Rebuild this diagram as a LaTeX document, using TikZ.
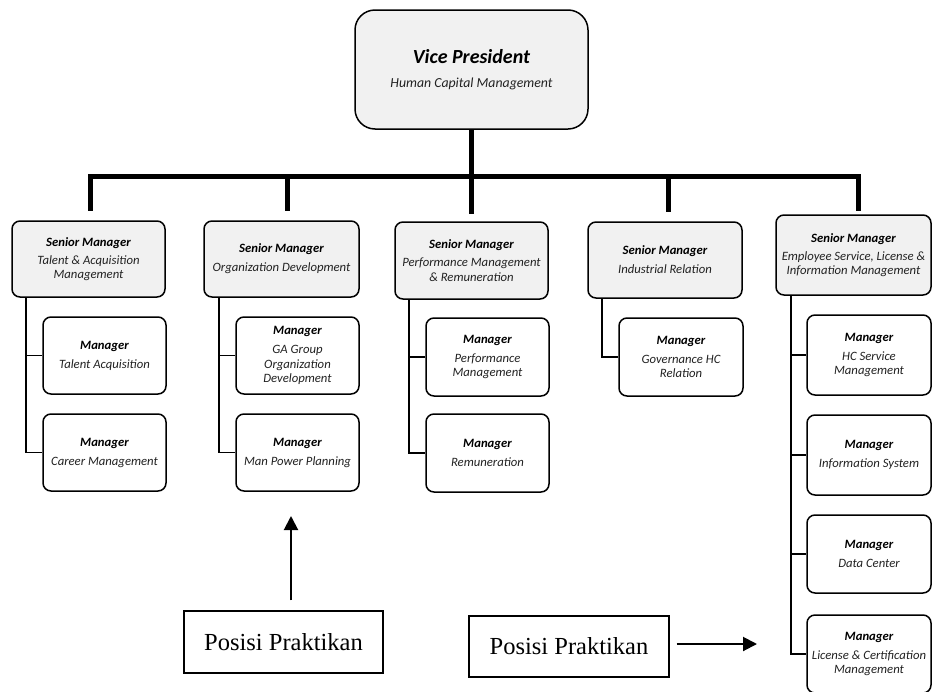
\documentclass[tikz,border=0pt]{standalone}
\usepackage{fontspec}
\setmainfont{Carlito}
\newfontfamily\serifpos{Liberation Serif}
\usetikzlibrary{arrows.meta}
\definecolor{boxgrey}{HTML}{F1F1F1}
\definecolor{subgrey}{HTML}{222222}
\newcommand\ttl[1]{{\color{black}\bfseries #1}}
\begin{document}
\begin{tikzpicture}[x=1pt,y=-1pt,
  box/.style={draw=black,line width=1.5pt,inner sep=0pt,align=center,text=subgrey,
    font=\fontsize{12.7}{14.5}\selectfont\itshape,rounded corners=8pt},
  sz/.style n args={2}{minimum width=#1pt,minimum height=#2pt},
  vpbox/.style={box,fill=boxgrey,rounded corners=20pt},
  smbox/.style={box,fill=boxgrey},
  mbox/.style={box,fill=white},
  bar/.style={line width=5pt},
  conn/.style={line width=1.6pt},
  posbox/.style={draw=black,line width=1.2pt,inner sep=0pt,
    font=\serifpos\fontsize{24.5}{28}\selectfont},
  posarrow/.style={line width=2pt,-{Triangle[length=14pt,width=14pt]}}
]
\useasboundingbox (0,0) rectangle (932,691);

% Vice President
\node[vpbox,sz={233}{119}] (vp) at (471.5,69.5)
  {{\color{black}\bfseries\fontsize{20}{23}\selectfont Vice President}\\[10pt]
   {\fontsize{13.8}{16}\selectfont Human Capital Management}};

% Senior managers
\node[smbox,sz={153}{76}] (sm1) at (88.5,259)
  {\ttl{Senior Manager}\\[3.5pt]Talent \& Acquisition\\Management};
\node[smbox,sz={155}{76}] (sm2) at (281.5,259)
  {\ttl{Senior Manager}\\[4.5pt]Organization Development};
\node[smbox,sz={153}{77}] (sm3) at (471.5,260.5)
  {\ttl{Senior Manager}\\[3.5pt]Performance Management\\\& Remuneration};
\node[smbox,sz={154}{76}] (sm4) at (665,260)
  {\ttl{Senior Manager}\\[4.5pt]Industrial Relation};
\node[smbox,sz={155}{80}] (sm5) at (853.5,255)
  {\ttl{Senior Manager}\\[3.5pt]Employee Service, License \&\\Information Management};

% Managers column 1
\node[mbox,sz={123}{77}] (m11) at (104.5,355.5) {\ttl{Manager}\\[4.5pt]Talent Acquisition};
\node[mbox,sz={123}{77}] (m12) at (104.5,452.5) {\ttl{Manager}\\[4.5pt]Career Management};
% column 2
\node[mbox,sz={123}{77}] (m21) at (297.5,355.5) {\ttl{Manager}\\[4.5pt]GA Group\\Organization\\Development};
\node[mbox,sz={123}{77}] (m22) at (297.5,452.5) {\ttl{Manager}\\[4.5pt]Man Power Planning};
% column 3
\node[mbox,sz={123}{78}] (m31) at (487.5,357) {\ttl{Manager}\\[4.5pt]Performance\\Management};
\node[mbox,sz={123}{78}] (m32) at (487.5,453) {\ttl{Manager}\\[4.5pt]Remuneration};
% column 4
\node[mbox,sz={124}{78}] (m41) at (681,357) {\ttl{Manager}\\[4.5pt]Governance HC\\Relation};
% column 5
\node[mbox,sz={124}{80}] (m51) at (869,355) {\ttl{Manager}\\[4.5pt]HC Service\\Management};
\node[mbox,sz={124}{80}] (m52) at (869,455) {\ttl{Manager}\\[4.5pt]Information System};
\node[mbox,sz={124}{78}] (m53) at (869,554) {\ttl{Manager}\\[4.5pt]Data Center};
\node[mbox,sz={124}{78}] (m54) at (869,654) {\ttl{Manager}\\[4.5pt]License \& Certification\\Management};

% top bar and drops
\coordinate (d1) at (90,176);
\coordinate (d2) at (287,176);
\coordinate (d3) at (471.5,176);
\coordinate (d4) at (668,176);
\coordinate (d5) at (858,176);
\draw[bar,line cap=rect] (d1) -- (d5);
\draw[bar] (vp.south) -- (d3);
\draw[bar,shorten >=9pt] (d1) -- (d1 |- sm1.north);
\draw[bar,shorten >=9pt] (d2) -- (d2 |- sm2.north);
\draw[bar,shorten >=7pt] (d3) -- (d3 |- sm3.north);
\draw[bar,shorten >=9pt] (d4) -- (d4 |- sm4.north);
\draw[bar,shorten >=3pt] (d5) -- (d5 |- sm5.north);

% column connectors
\coordinate (c1) at ([xshift=15pt]sm1.south west);
\coordinate (c2) at ([xshift=16pt]sm2.south west);
\coordinate (c3) at ([xshift=15pt]sm3.south west);
\coordinate (c4) at ([xshift=15pt]sm4.south west);
\coordinate (c5) at ([xshift=16pt]sm5.south west);
\draw[conn] (c1) |- (m12.west);
\draw[conn] (c1 |- m11.west) -- (m11.west);
\draw[conn] (c2) |- (m22.west);
\draw[conn] (c2 |- m21.west) -- (m21.west);
\draw[conn] (c3) |- (m32.west);
\draw[conn] (c3 |- m31.west) -- (m31.west);
\draw[conn] (c4) |- (m41.west);
\draw[conn] (c5) |- (m54.west);
\draw[conn] (c5 |- m51.west) -- (m51.west);
\draw[conn] (c5 |- m52.west) -- (m52.west);
\draw[conn] (c5 |- m53.west) -- (m53.west);

% Posisi Praktikan
\node[posbox,sz={199}{62}] (p1) at (283.5,642) {Posisi Praktikan};
\node[posbox,sz={200}{61}] (p2) at (569,646.5) {Posisi Praktikan};
\coordinate (a1) at (291,516);
\coordinate (a2) at (757,644);
\draw[posarrow,shorten <=10pt] (a1 |- p1.north) -- (a1);
\draw[posarrow,shorten <=7pt] (p2.east |- a2) -- (a2);
\end{tikzpicture}
\end{document}
